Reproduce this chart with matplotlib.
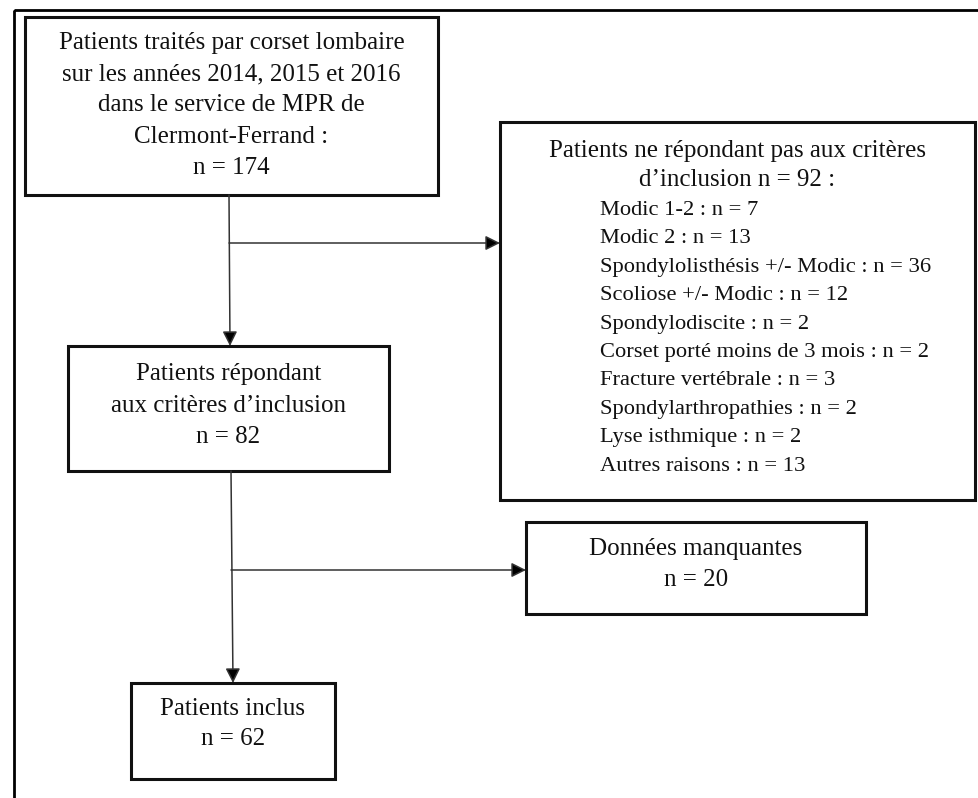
import matplotlib.pyplot as plt
from matplotlib.patches import Rectangle

plt.rcParams['font.family'] = ['Liberation Serif', 'DejaVu Serif']

# flowchart content
box_texts = [
    ["Patients traités par corset lombaire",
     "sur les années 2014, 2015 et 2016",
     "dans le service de MPR de",
     "Clermont-Ferrand :",
     "n = 174"],
    ["Patients répondant",
     "aux critères d\u2019inclusion",
     "n = 82"],
    ["Données manquantes",
     "n = 20"],
    ["Patients inclus",
     "n = 62"],
]
excl_title = ["Patients ne répondant pas aux critères",
              "d\u2019inclusion n = 92 :"]
excl_reasons = ["Modic 1-2", "Modic 2", "Spondylolisthésis +/- Modic",
                "Scoliose +/- Modic", "Spondylodiscite",
                "Corset porté moins de 3 mois", "Fracture vertébrale",
                "Spondylarthropathies", "Lyse isthmique", "Autres raisons"]
excl_counts = [7, 13, 36, 12, 2, 2, 3, 2, 2, 13]

# box geometry in pixels: (left, top, right, bottom), first baseline, line step
boxes = [
    ((25, 17, 438, 195), 49, 31.2),
    ((68, 346, 389, 471), 380, 31.5),
    ((526, 522, 866, 614), 555, 31),
    ((131, 683, 335, 779), 715, 30),
]
excl_box = (500, 122, 975, 500)

fig = plt.figure(figsize=(9.79, 7.98), dpi=100)
ax = fig.add_axes([0, 0, 1, 1])
ax.set_xlim(0, 979)
ax.set_ylim(798, 0)
ax.axis('off')

# outer frame (runs off the right and bottom edge)
ax.add_patch(Rectangle((14, 10), 1000, 1000, fill=False, lw=2, ec='black'))

def draw_box(l, t, r, b):
    ax.add_patch(Rectangle((l, t), r - l, b - t, fill=False, lw=2.2,
                           ec='#111111', zorder=3))

fs = 18
for (l, t, r, b), y0, step in boxes:
    draw_box(l, t, r, b)
for lines, ((l, t, r, b), y0, step) in zip(box_texts, boxes):
    for i, s in enumerate(lines):
        ax.text((l + r) / 2, y0 + i * step, s, ha='center', va='baseline',
                fontsize=fs, color='#111111')

draw_box(*excl_box)
cx = (excl_box[0] + excl_box[2]) / 2
for i, s in enumerate(excl_title):
    ax.text(cx, 157 + i * 28.5, s, ha='center', va='baseline',
            fontsize=fs, color='#111111')
for i, (name, n) in enumerate(zip(excl_reasons, excl_counts)):
    ax.text(600, 215 + i * 28.4, f"{name} : n = {n}", ha='left',
            va='baseline', fontsize=16.2, color='#111111')

def arrow(start, end):
    ax.annotate('', xy=end, xytext=start,
                arrowprops=dict(arrowstyle='-|>', color='#333333', lw=1.1,
                                mutation_scale=22, shrinkA=0, shrinkB=0,
                                fc='black'))

arrow((229, 195), (230, 346))
arrow((229, 243), (500, 243))
arrow((231, 471), (233, 683))
arrow((231, 570), (526, 570))

fig.savefig('out.png', dpi=100)
